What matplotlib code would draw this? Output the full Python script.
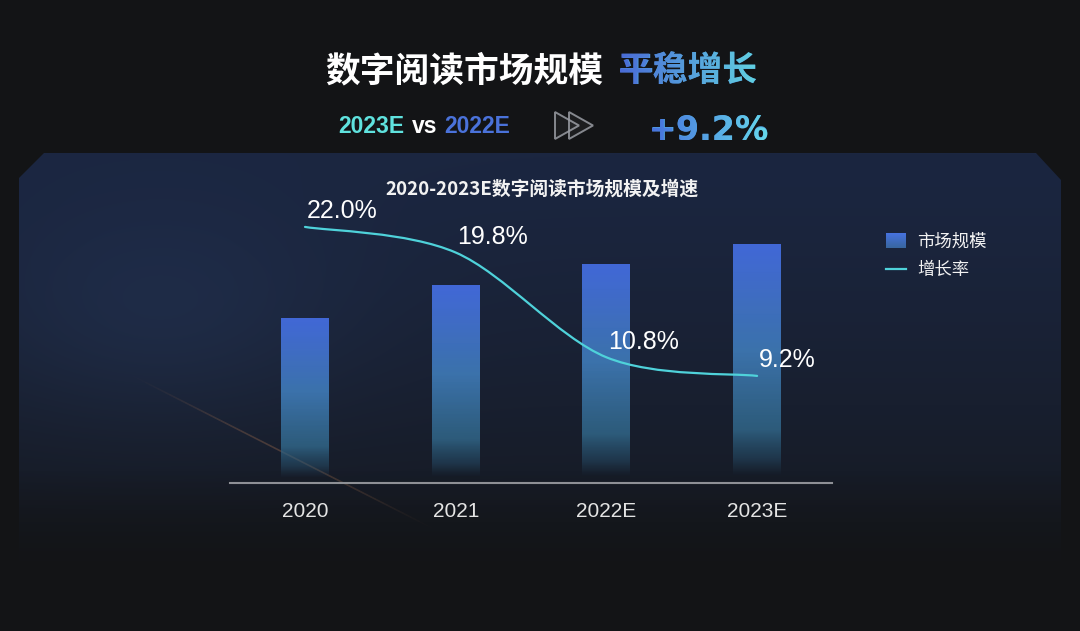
"""数字阅读市场规模 平稳增长 — dark slide style bar + growth-rate line chart."""

import numpy as np
import matplotlib

matplotlib.use("Agg")
import matplotlib.pyplot as plt
from matplotlib.patches import Polygon, PathPatch, Rectangle
from matplotlib.path import Path
from matplotlib.textpath import TextPath
from matplotlib.font_manager import FontProperties
from matplotlib.lines import Line2D
from matplotlib.collections import LineCollection
from matplotlib.legend_handler import HandlerBase
from matplotlib.image import BboxImage
from matplotlib.transforms import Bbox, TransformedBbox

# ---- data (market size, growth rates from labels) ----
years = ["2020", "2021", "2022E", "2023E"]
market_size = [351.6, 421.2, 466.7, 509.6]
growth_rate = [22.0, 19.8, 10.8, 9.2]
growth_labels = ["22.0%", "19.8%", "10.8%", "9.2%"]
legend_labels = ["市场规模", "增长率"]

# ---- palette ----
BG = "#131416"
CYAN = "#4fd2da"
WHITE = "#f2f2f2"
TICK = "#e4e4e4"
AXIS = "#8e9096"

W, H, DPI = 1080, 631, 100
CJK = "Noto Sans CJK SC"


def Y(y):
    """pixel row (from top) -> background-axes y."""
    return H - y


def vgrad(stops, n=256):
    """vertical RGBA gradient, stops = [(pos, (r,g,b,a)), ...], row 0 = top."""
    pos = np.array([s[0] for s in stops])
    cols = np.array([s[1] for s in stops], dtype=float)
    t = np.linspace(0, 1, n)
    out = np.stack([np.interp(t, pos, cols[:, k]) for k in range(4)], axis=1)
    return out[:, None, :]


BAR_GRAD = vgrad([
    (0.00, (0.26, 0.41, 0.85, 1.0)),
    (0.45, (0.24, 0.46, 0.69, 0.97)),
    (0.78, (0.20, 0.42, 0.56, 0.80)),
    (0.90, (0.16, 0.34, 0.46, 0.45)),
    (0.97, (0.15, 0.30, 0.40, 0.0)),
    (1.00, (0.15, 0.30, 0.40, 0.0)),
])
LEGEND_GRAD = vgrad([
    (0.0, (0.28, 0.45, 0.88, 1.0)),
    (1.0, (0.22, 0.40, 0.62, 1.0)),
])


class GradientSquare(HandlerBase):
    def create_artists(self, legend, orig_handle, xdescent, ydescent,
                       width, height, fontsize, trans):
        bb = Bbox.from_bounds(-xdescent, -ydescent, width, height)
        img = BboxImage(TransformedBbox(bb, trans), interpolation="bilinear")
        img.set_data(LEGEND_GRAD)
        return [img]


fig = plt.figure(figsize=(W / DPI, H / DPI), dpi=DPI)
fig.patch.set_facecolor(BG)

# ---- background layer in pixel coordinates ----
bg = fig.add_axes([0, 0, 1, 1])
bg.set_zorder(0)
bg.axis("off")

px0, px1, py0, py1 = 19, 1061, 153, 580
ys = np.arange(py0, py1)[:, None].astype(float)
xs = np.arange(px0, px1)[None, :].astype(float)
t = np.clip((ys - py0) / (565 - py0), 0, 1)
top = np.array([27, 38, 64]) / 255
bot = np.array([21, 24, 30]) / 255
panel = top + (bot - top) * (t ** 1.4)[..., None]
panel = np.broadcast_to(panel, (ys.shape[0], xs.shape[1], 3)).copy()
haze = np.exp(-(((xs - 160) / 190) ** 2 + ((ys - 320) / 110) ** 2))
panel += haze[..., None] * np.array([0.02, 0.035, 0.06])
alpha = np.clip((1.02 - t) / 0.25, 0, 1)
alpha = np.broadcast_to(alpha, panel.shape[:2])
im = bg.imshow(np.dstack([panel, alpha]), extent=[px0, px1, Y(py1), Y(py0)],
               origin="upper", aspect="auto", interpolation="bilinear", zorder=1)
outline = Polygon([(19, Y(py1)), (19, Y(178)), (44, Y(153)), (1036, Y(153)),
                   (1061, Y(180)), (1061, Y(py1))], closed=True,
                  transform=bg.transData)
im.set_clip_path(outline)

# faint orange light streak across the lower left
sx = np.linspace(125, 440, 80)
sy = np.linspace(372, 532, 80)
pts = np.column_stack([sx, Y(sy)])
segs = np.stack([pts[:-1], pts[1:]], axis=1)
ts = np.linspace(0, 1, len(segs))
streak_cols = [(0.86, 0.56, 0.36, 0.26 * np.sin(np.pi * v) ** 1.5) for v in ts]
bg.add_collection(LineCollection(segs, colors=streak_cols, linewidths=1.2, zorder=2))


def gradient_text(x, y_base, s, size_pt, prop, c0, c1, solid):
    bg.text(x, Y(y_base), s, fontproperties=prop, fontsize=size_pt, color=solid,
            ha="left", va="baseline", zorder=5)
    tp = TextPath((x, Y(y_base)), s, size=size_pt * DPI / 72, prop=prop)
    ext = tp.get_extents()
    g = np.linspace(0, 1, 256)[:, None]
    cols = (1 - g) * np.array(c0) + g * np.array(c1)
    gi = bg.imshow(cols[None, :, :], extent=[ext.x0, ext.x1, ext.y0, ext.y1],
                   aspect="auto", interpolation="bilinear", zorder=6)
    gi.set_clip_path(PathPatch(tp, transform=bg.transData))


# ---- headline ----
fp_head = FontProperties(family=CJK, weight="bold")
bg.text(325, Y(81), "数字阅读市场规模", fontproperties=fp_head, fontsize=25,
        color="white", ha="left", va="baseline", zorder=5)
gradient_text(618, 81, "平稳增长", 25, fp_head,
              (0.29, 0.42, 0.84), (0.38, 0.82, 0.88), "#509ade")

# ---- comparison row ----
fp_sub = FontProperties(family="Liberation Sans", weight="bold")
bg.text(338, Y(133), "2023E", fontproperties=fp_sub, fontsize=16.5,
        color="#5fe2de", ha="left", va="baseline", zorder=5)
bg.text(412, Y(133), "vs", fontproperties=fp_sub, fontsize=16.5,
        color="white", ha="left", va="baseline", zorder=5)
bg.text(444, Y(133), "2022E", fontproperties=fp_sub, fontsize=16.5,
        color="#4a72da", ha="left", va="baseline", zorder=5)

for dx in (0, 14):
    bg.add_patch(Polygon([(555 + dx, Y(112)), (555 + dx, Y(139)), (579 + dx, Y(125.5))],
                         closed=True, facecolor=(1, 1, 1, 0.04),
                         edgecolor=(0.6, 0.61, 0.64, 0.85), linewidth=1.4, zorder=5))

gradient_text(648, 140, "+9.2%", 24, FontProperties(family="DejaVu Sans", weight="bold"),
              (0.28, 0.45, 0.87), (0.40, 0.85, 0.92), "#52a6e2")

bg.set_xlim(0, W)
bg.set_ylim(0, H)

# ---- chart ----
step = 150.7
left_px = 305 - 0.5 * step
base_px, top_px = 483, 200
ax = fig.add_axes([left_px / W, (H - base_px) / H, 4 * step / W, (base_px - top_px) / H])
ax.set_zorder(2)
ax.patch.set_alpha(0)

x = np.arange(len(years))
bar_w = 48 / step
bars = ax.bar(x, market_size, width=bar_w, color="none", edgecolor="none")
for rect in bars:
    gi = ax.imshow(BAR_GRAD, extent=[rect.get_x(), rect.get_x() + rect.get_width(),
                                     0, rect.get_height()],
                   aspect="auto", interpolation="bilinear", zorder=2)
    gi.set_clip_path(rect)

ax.set_xlim(-0.5, 3.5)
ax.set_ylim(0, (base_px - top_px) / 0.4693)
ax.set_xticks(x, years)
ax.set_yticks([])
ax.tick_params(axis="x", length=0, pad=14, labelsize=15, labelcolor=TICK)
for lab in ax.get_xticklabels():
    lab.set_fontfamily("Liberation Sans")
for s in ("top", "right", "left"):
    ax.spines[s].set_visible(False)
ax.spines["bottom"].set_color(AXIS)
ax.spines["bottom"].set_linewidth(1.5)

ax.text(0.518, 1.0 + 5 / (base_px - top_px), "2020-2023E数字阅读市场规模及增速",
        transform=ax.transAxes, ha="center", va="baseline", fontsize=13.5,
        fontweight="bold", family=CJK, color=WHITE)

# growth-rate line, smoothed with Catmull-Rom style Bezier handles
ax2 = ax.twinx()
ax2.set_ylim(0, (base_px - top_px) / 11.64)
ax2.set_yticks([])
for s in ax2.spines.values():
    s.set_visible(False)

P = np.column_stack([x, growth_rate]).astype(float)
k = 0.16
verts, codes = [P[0]], [Path.MOVETO]
for i in range(len(P) - 1):
    prev_p = P[i - 1] if i > 0 else P[i]
    next_p = P[i + 2] if i + 2 < len(P) else P[i + 1]
    c1 = P[i] + (P[i + 1] - prev_p) * k
    c2 = P[i + 1] - (next_p - P[i]) * k
    verts += [c1, c2, P[i + 1]]
    codes += [Path.CURVE4] * 3
ax2.add_patch(PathPatch(Path(verts, codes), fill=False, edgecolor=CYAN,
                        linewidth=1.6, zorder=3, capstyle="round"))

for xi, v, lbl in zip(x, growth_rate, growth_labels):
    ax2.annotate(lbl, (xi, v), xytext=(1.5, 8.5), textcoords="offset pixels",
                 ha="left", va="baseline", fontsize=18, family="Liberation Sans",
                 color="white", zorder=4)

bar_handle = Rectangle((0, 0), 1, 1, facecolor="#3d68cc")
line_handle = Line2D([], [], color=CYAN, linewidth=1.6)
leg = ax2.legend([bar_handle, line_handle], legend_labels,
                 handler_map={bar_handle: GradientSquare()},
                 loc="upper left", bbox_to_anchor=(886 / W, 1 - 233 / H),
                 bbox_transform=fig.transFigure, frameon=False,
                 borderpad=0, borderaxespad=0, handlelength=1.15,
                 handleheight=0.92, handletextpad=0.65, labelspacing=0.6,
                 prop=FontProperties(family=CJK, size=12.5))
for txt in leg.get_texts():
    txt.set_color(WHITE)

fig.savefig("out.png", dpi=DPI, facecolor=BG)
